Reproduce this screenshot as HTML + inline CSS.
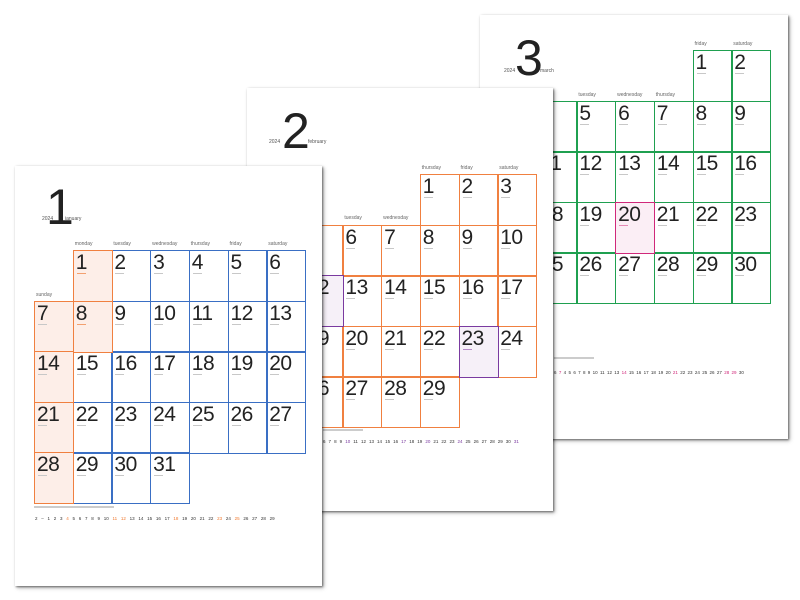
<!DOCTYPE html>
<html><head><meta charset="utf-8"><style>
body{margin:0;width:800px;height:600px;background:#fff;position:relative;overflow:hidden;font-family:"Liberation Sans",sans-serif}
.pg{position:absolute;background:#fff;box-shadow:1px 1px 2px rgba(0,0,0,.5),2px 2px 4px rgba(0,0,0,.25)}
.g{position:absolute}
.c{position:absolute;left:calc(var(--c)*38.7px);top:calc(var(--r)*50.6px);width:40.1px;height:52px;box-sizing:border-box;border:1.4px solid var(--b);background:var(--f,transparent)}
.c b{position:absolute;left:2px;top:1px;font-weight:normal;font-size:21px;color:#222;letter-spacing:-0.5px;line-height:22px}
.c i{position:absolute;left:3px;top:22px;width:9px;height:1px;background:#c8c8c8}
.h{position:absolute;top:-9px;font-size:5px;color:#666;left:calc(var(--c)*38.7px + 2px)}
.big{position:absolute;font-size:50px;color:#222;line-height:50px}
.yr{position:absolute;font-size:5px;color:#555}
.mini{position:absolute;display:flex;justify-content:space-between;font-size:4.5px;color:#333}
.mt{position:absolute;height:1.5px;background:#ccc}
.o{color:#f07a30}.p{color:#7a3aa0}.k{color:#d0287a}
</style></head><body>

<!-- March -->
<div class="pg" style="left:480px;top:15px;width:308px;height:424px">
 <div class="big" style="left:35px;top:18px">3</div>
 <div class="yr" style="left:24px;top:53px">2024</div><div class="yr" style="left:60px;top:53px">march</div>
 <div class="g" style="left:19px;top:35px;--b:#1fa050">
  <span class="h" style="--c:5">friday</span><span class="h" style="--c:6">saturday</span>
  <span class="h" style="--c:2;top:42px">tuesday</span><span class="h" style="--c:3;top:42px">wednesday</span><span class="h" style="--c:4;top:42px">thursday</span>
  <div class="c" style="--c:5;--r:0"><b>1</b><i></i></div><div class="c" style="--c:6;--r:0"><b>2</b><i></i></div>
  <div class="c" style="--c:0;--r:1"><b>3</b></div><div class="c" style="--c:1;--r:1"><b>4</b></div><div class="c" style="--c:2;--r:1"><b>5</b><i></i></div><div class="c" style="--c:3;--r:1"><b>6</b><i></i></div><div class="c" style="--c:4;--r:1"><b>7</b><i></i></div><div class="c" style="--c:5;--r:1"><b>8</b><i></i></div><div class="c" style="--c:6;--r:1"><b>9</b><i></i></div>
  <div class="c" style="--c:0;--r:2"><b>10</b></div><div class="c" style="--c:1;--r:2"><b>11</b></div><div class="c" style="--c:2;--r:2"><b>12</b><i></i></div><div class="c" style="--c:3;--r:2"><b>13</b><i></i></div><div class="c" style="--c:4;--r:2"><b>14</b><i></i></div><div class="c" style="--c:5;--r:2"><b>15</b><i></i></div><div class="c" style="--c:6;--r:2"><b>16</b><i></i></div>
  <div class="c" style="--c:0;--r:3"><b>17</b></div><div class="c" style="--c:1;--r:3"><b>18</b></div><div class="c" style="--c:2;--r:3"><b>19</b><i></i></div><div class="c" style="--c:4;--r:3"><b>21</b><i></i></div><div class="c" style="--c:5;--r:3"><b>22</b><i></i></div><div class="c" style="--c:6;--r:3"><b>23</b><i></i></div>
  <div class="c" style="--c:0;--r:4"><b>24</b></div><div class="c" style="--c:1;--r:4"><b>25</b></div><div class="c" style="--c:2;--r:4"><b>26</b><i></i></div><div class="c" style="--c:3;--r:4"><b>27</b><i></i></div><div class="c" style="--c:4;--r:4"><b>28</b><i></i></div><div class="c" style="--c:5;--r:4"><b>29</b><i></i></div><div class="c" style="--c:6;--r:4"><b>30</b><i></i></div>
  <div class="c" style="--c:3;--r:3;--b:#d0287a;--f:#fbeef5"><b>20</b><i style="background:#e58ab5"></i></div>
 </div>
 <div class="mt" style="left:74px;top:342px;width:40px"></div>
 <div class="mini" style="left:74px;top:355px;width:190px"><span>6</span><span class="k">7</span><span>4</span><span>5</span><span>6</span><span>7</span><span>8</span><span>9</span><span>10</span><span>11</span><span>12</span><span>13</span><span class="k">14</span><span>15</span><span>16</span><span>17</span><span>18</span><span>19</span><span>20</span><span class="k">21</span><span>22</span><span>23</span><span>24</span><span>25</span><span>26</span><span>27</span><span class="k">28</span><span class="k">29</span><span>30</span></div>
</div>

<!-- February -->
<div class="pg" style="left:247px;top:88px;width:306px;height:423px">
 <div class="big" style="left:35px;top:18px">2</div>
 <div class="yr" style="left:22px;top:51px">2024</div><div class="yr" style="left:61px;top:51px">february</div>
 <div class="g" style="left:18px;top:86px;--b:#f08040">
  <span class="h" style="--c:4">thursday</span><span class="h" style="--c:5">friday</span><span class="h" style="--c:6">saturday</span>
  <span class="h" style="--c:2;top:41px">tuesday</span><span class="h" style="--c:3;top:41px">wednesday</span>
  <div class="c" style="--c:4;--r:0"><b>1</b><i></i></div><div class="c" style="--c:5;--r:0"><b>2</b><i></i></div><div class="c" style="--c:6;--r:0"><b>3</b><i></i></div>
  <div class="c" style="--c:0;--r:1"><b>4</b></div><div class="c" style="--c:1;--r:1"><b>5</b></div><div class="c" style="--c:2;--r:1"><b>6</b><i></i></div><div class="c" style="--c:3;--r:1"><b>7</b><i></i></div><div class="c" style="--c:4;--r:1"><b>8</b><i></i></div><div class="c" style="--c:5;--r:1"><b>9</b><i></i></div><div class="c" style="--c:6;--r:1"><b>10</b><i></i></div>
  <div class="c" style="--c:0;--r:2"><b>11</b></div><div class="c" style="--c:2;--r:2"><b>13</b><i></i></div><div class="c" style="--c:3;--r:2"><b>14</b><i></i></div><div class="c" style="--c:4;--r:2"><b>15</b><i></i></div><div class="c" style="--c:5;--r:2"><b>16</b><i></i></div><div class="c" style="--c:6;--r:2"><b>17</b><i></i></div>
  <div class="c" style="--c:0;--r:3"><b>18</b></div><div class="c" style="--c:1;--r:3"><b>19</b></div><div class="c" style="--c:2;--r:3"><b>20</b><i></i></div><div class="c" style="--c:3;--r:3"><b>21</b><i></i></div><div class="c" style="--c:4;--r:3"><b>22</b><i></i></div><div class="c" style="--c:6;--r:3"><b>24</b><i></i></div>
  <div class="c" style="--c:0;--r:4"><b>25</b></div><div class="c" style="--c:1;--r:4"><b>26</b></div><div class="c" style="--c:2;--r:4"><b>27</b><i></i></div><div class="c" style="--c:3;--r:4"><b>28</b><i></i></div><div class="c" style="--c:4;--r:4"><b>29</b><i></i></div>
  <div class="c" style="--c:1;--r:2;--b:#7a3aa0;--f:#f6f0f8"><b>12</b></div>
  <div class="c" style="--c:5;--r:3;--b:#7a3aa0;--f:#f6f0f8"><b>23</b><i style="background:#b58ac8"></i></div>
 </div>
 <div class="mt" style="left:76px;top:341px;width:40px"></div>
 <div class="mini" style="left:76px;top:351px;width:196px"><span>6</span><span>7</span><span>8</span><span>9</span><span class="p">10</span><span>11</span><span>12</span><span>13</span><span>14</span><span>15</span><span>16</span><span class="p">17</span><span>18</span><span>19</span><span class="p">20</span><span>21</span><span>22</span><span>23</span><span class="p">24</span><span>25</span><span>26</span><span>27</span><span>28</span><span>29</span><span>30</span><span class="p">31</span></div>
</div>

<!-- January -->
<div class="pg" style="left:15px;top:166px;width:307px;height:420px">
 <div class="big" style="left:31px;top:16px">1</div>
 <div class="yr" style="left:27px;top:50px">2024</div><div class="yr" style="left:50px;top:50px">january</div>
 <div class="g" style="left:19px;top:84px;--b:#3a6fc4">
  <span class="h" style="--c:1">monday</span><span class="h" style="--c:2">tuesday</span><span class="h" style="--c:3">wednesday</span><span class="h" style="--c:4">thursday</span><span class="h" style="--c:5">friday</span><span class="h" style="--c:6">saturday</span>
  <span class="h" style="--c:0;top:42px">sunday</span>
  <div class="c" style="--c:2;--r:0"><b>2</b><i></i></div><div class="c" style="--c:3;--r:0"><b>3</b><i></i></div><div class="c" style="--c:4;--r:0"><b>4</b><i></i></div><div class="c" style="--c:5;--r:0"><b>5</b><i></i></div><div class="c" style="--c:6;--r:0"><b>6</b><i></i></div>
  <div class="c" style="--c:2;--r:1"><b>9</b><i></i></div><div class="c" style="--c:3;--r:1"><b>10</b><i></i></div><div class="c" style="--c:4;--r:1"><b>11</b><i></i></div><div class="c" style="--c:5;--r:1"><b>12</b><i></i></div><div class="c" style="--c:6;--r:1"><b>13</b><i></i></div>
  <div class="c" style="--c:1;--r:2"><b>15</b><i></i></div><div class="c" style="--c:2;--r:2"><b>16</b><i></i></div><div class="c" style="--c:3;--r:2"><b>17</b><i></i></div><div class="c" style="--c:4;--r:2"><b>18</b><i></i></div><div class="c" style="--c:5;--r:2"><b>19</b><i></i></div><div class="c" style="--c:6;--r:2"><b>20</b><i></i></div>
  <div class="c" style="--c:1;--r:3"><b>22</b><i></i></div><div class="c" style="--c:2;--r:3"><b>23</b><i></i></div><div class="c" style="--c:3;--r:3"><b>24</b><i></i></div><div class="c" style="--c:4;--r:3"><b>25</b><i></i></div><div class="c" style="--c:5;--r:3"><b>26</b><i></i></div><div class="c" style="--c:6;--r:3"><b>27</b><i></i></div>
  <div class="c" style="--c:1;--r:4"><b>29</b><i></i></div><div class="c" style="--c:2;--r:4"><b>30</b><i></i></div><div class="c" style="--c:3;--r:4"><b>31</b><i></i></div>
  <div class="c" style="--c:1;--r:0;--b:#f08040;--f:#fdeee8"><b>1</b><i style="background:#f3a070"></i></div>
  <div class="c" style="--c:1;--r:1;--b:#f08040;--f:#fdeee8"><b>8</b><i style="background:#f3a070"></i></div>
  <div class="c" style="--c:0;--r:1;--b:#f08040;--f:#fdeee8"><b>7</b><i></i></div>
  <div class="c" style="--c:0;--r:2;--b:#f08040;--f:#fdeee8"><b>14</b><i></i></div>
  <div class="c" style="--c:0;--r:3;--b:#f08040;--f:#fdeee8"><b>21</b><i></i></div>
  <div class="c" style="--c:0;--r:4;--b:#f08040;--f:#fdeee8"><b>28</b><i></i></div>
 </div>
 <div class="mt" style="left:19px;top:340px;width:80px"></div>
 <div class="mini" style="left:20px;top:350px;width:240px"><span>2</span><span>–</span><span>1</span><span>2</span><span>3</span><span class="o">4</span><span>5</span><span>6</span><span>7</span><span>8</span><span>9</span><span>10</span><span class="o">11</span><span class="o">12</span><span>13</span><span>14</span><span>15</span><span>16</span><span>17</span><span class="o">18</span><span>19</span><span>20</span><span>21</span><span>22</span><span class="o">23</span><span>24</span><span class="o">25</span><span>26</span><span>27</span><span>28</span><span>29</span></div>
</div>
</body></html>
